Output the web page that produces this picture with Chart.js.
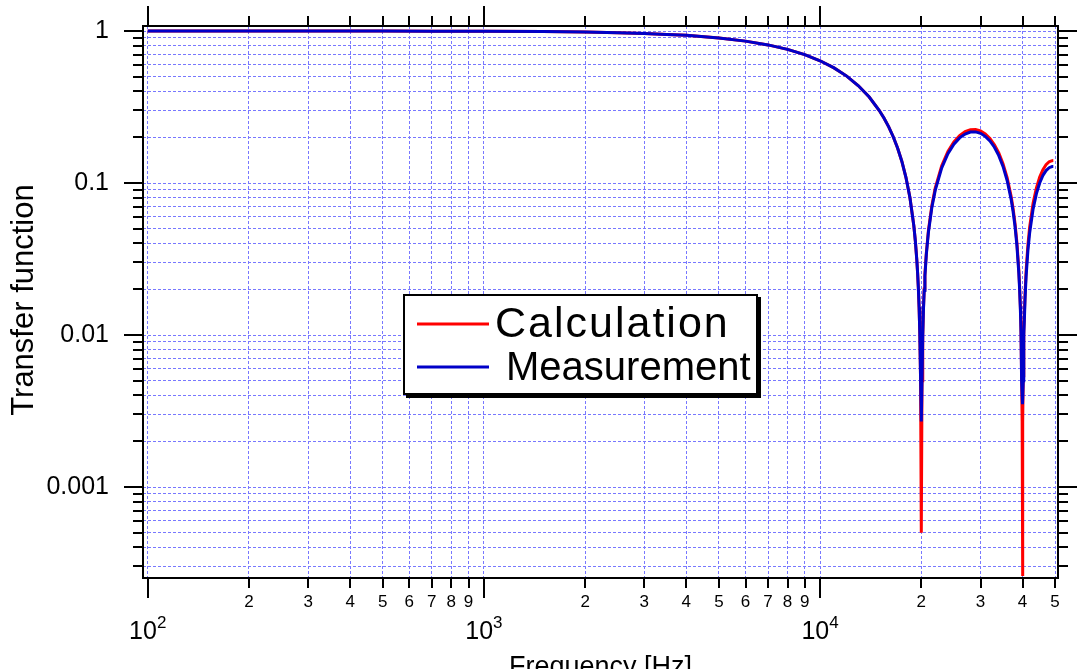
<!DOCTYPE html>
<html>
<head>
<meta charset="utf-8">
<script src="https://cdn.jsdelivr.net/npm/chart.js@4/dist/chart.umd.min.js"></script>
<style>
  html, body { margin: 0; padding: 0; background: #fff; }
</style>
</head>
<body>
<canvas id="tf" width="1077" height="669"></canvas>
<script>
// frequency [Hz] of every sample
const freq = [100, 200, 300, 500, 700, 1000, 1500, 2000, 2500, 3000, 3500, 4000, 5000, 6000, 7000, 8000, 9000,
  10000, 11000, 12000, 13000, 14000, 15000, 15500, 16000, 16500, 17000, 17500, 18000, 18500, 19000, 19200, 19400,
  19500, 19600, 19700, 19800, 19900, 20000, 20100, 20200, 20300, 20400, 20500, 20700, 21000, 21500, 22000, 23000,
  24000, 25000, 26000, 27000, 28000, 29000, 30000, 31000, 32000, 33000, 34000, 35000, 36000, 37000, 37500, 38000,
  38500, 39000, 39200, 39400, 39500, 39600, 39700, 39800, 39900, 40000, 40100, 40200, 40300, 40400, 40500, 40700,
  41000, 41500, 42000, 43000, 44000, 45000, 46000, 47000, 48000, 49000, 49400];

// Calculation (red)
const calc = [1.000, 0.9999, 0.9996, 0.999, 0.998, 0.996, 0.991, 0.984, 0.974, 0.963, 0.950, 0.936, 0.900, 0.858, 0.810, 0.757, 0.699,
  0.637, 0.572, 0.505, 0.436, 0.368, 0.300, 0.2667, 0.234, 0.2016, 0.170, 0.1392, 0.109, 0.0803, 0.0524, 0.04155, 0.03088,
  0.0256, 0.0204, 0.01522, 0.0101, 0.0050, 0.0005, 0.0050, 0.0100, 0.0151, 0.0201, 0.0250, 0.0346, 0.0487, 0.0712, 0.0925, 0.130,
  0.1615, 0.1865, 0.2050, 0.2175, 0.2240, 0.2250, 0.2200, 0.2105, 0.1965, 0.1787, 0.1577, 0.1340, 0.1085, 0.0817, 0.0679, 0.0543,
  0.0404, 0.0268, 0.0213, 0.0159, 0.0134, 0.01055, 0.0079, 0.0053, 0.0027, 0.00026, 0.0027, 0.0054, 0.0080, 0.0107, 0.0135, 0.0186,
  0.0265, 0.0389, 0.0512, 0.0735, 0.0930, 0.1094, 0.1225, 0.1320, 0.1380, 0.1403, 0.1404];

// Measurement (blue), null = not sampled
const meas = [1.000, 0.9999, 0.9996, 0.999, 0.998, 0.996, 0.991, 0.984, 0.974, 0.963, 0.950, 0.936, 0.900, 0.858, 0.810, 0.757, 0.699,
  0.637, 0.572, 0.505, 0.436, 0.368, 0.300, 0.2667, 0.234, 0.2016, 0.170, 0.1392, 0.109, 0.0803, 0.0524, 0.04155, 0.03088,
  0.0256, 0.0204, 0.01522, 0.0101, null, 0.0027, null, 0.0099, 0.01477, 0.0196, 0.0244, 0.03375, 0.0474, 0.0691, 0.0894, 0.1257,
  0.1559, 0.1801, 0.1981, 0.2101, 0.2162, 0.2168, 0.2122, 0.2028, 0.1892, 0.1719, 0.1515, 0.1286, 0.1039, 0.0781, 0.06497, 0.0518,
  0.0386, 0.0255, 0.02035, 0.0152, 0.01265, 0.0101, 0.00755, 0.0050, null, 0.0035, null, 0.0050, 0.00744, 0.0099, 0.01233, 0.01717,
  0.0243, 0.0358, 0.0468, 0.0672, 0.0851, 0.1000, 0.1120, 0.1207, 0.1261, 0.1283, 0.1283];

const xTickVals = [100, 200, 300, 400, 500, 600, 700, 800, 900,
  1000, 2000, 3000, 4000, 5000, 6000, 7000, 8000, 9000,
  10000, 20000, 30000, 40000, 50000];
const xTickLabels = ['', '2', '3', '4', '5', '6', '7', '8', '9',
  '', '2', '3', '4', '5', '6', '7', '8', '9',
  '', '2', '3', '4', '5'];
const xMajorVals = [100, 1000, 10000];
const xMajorExp = ['2', '3', '4'];

const yTickVals = [0.0003, 0.0004, 0.0005, 0.0006, 0.0007, 0.0008, 0.0009,
  0.001, 0.002, 0.003, 0.004, 0.005, 0.006, 0.007, 0.008, 0.009,
  0.01, 0.02, 0.03, 0.04, 0.05, 0.06, 0.07, 0.08, 0.09,
  0.1, 0.2, 0.3, 0.4, 0.5, 0.6, 0.7, 0.8, 0.9, 1];
const yMajorVals = [0.001, 0.01, 0.1, 1];
const yMajorLabels = ['0.001', '0.01', '0.1', '1'];

const FONT = 'Liberation Sans, Arial, sans-serif';
const GRID = 'rgb(120, 120, 255)';

function isMajor(v) {
  let l = Math.log10(v);
  return Math.abs(l - Math.round(l)) < 1e-9;
}

function pts(vals) {
  return freq.map((f, i) => ({ x: f, y: vals[i] }));
}

// axis frame, outside ticks, 10^n labels, titles and legend box
const frame = {
  id: 'frame',
  afterDraw(chart) {
    const { ctx, chartArea: a, scales: { x, y } } = chart;
    ctx.save();
    ctx.strokeStyle = '#000';
    ctx.lineWidth = 2;
    ctx.lineCap = 'butt';
    function seg(x1, y1, x2, y2) {
      ctx.beginPath();
      ctx.moveTo(x1, y1);
      ctx.lineTo(x2, y2);
      ctx.stroke();
    }
    ctx.strokeRect(a.left, a.top, a.right - a.left, a.bottom - a.top);

    xTickVals.forEach(v => {
      let px = Math.round(x.getPixelForValue(v));
      let len = isMajor(v) ? 20 : 10;
      seg(px, a.bottom, px, a.bottom + len);
      seg(px, a.top, px, a.top - len);
    });
    yTickVals.forEach(v => {
      let py = Math.round(y.getPixelForValue(v));
      let len = isMajor(v) ? 19 : 10;
      seg(a.left - len, py, a.left, py);
      seg(a.right, py, a.right + len, py);
    });

    // 10^n labels
    ctx.fillStyle = '#000';
    ctx.textBaseline = 'alphabetic';
    ctx.textAlign = 'left';
    xMajorVals.forEach((v, i) => {
      let px = x.getPixelForValue(v);
      ctx.font = '25px ' + FONT;
      let w10 = ctx.measureText('10').width;
      ctx.font = '17px ' + FONT;
      let wExp = ctx.measureText(xMajorExp[i]).width;
      let start = px - (w10 + wExp) / 2;
      ctx.font = '25px ' + FONT;
      ctx.fillText('10', start, 639);
      ctx.font = '17px ' + FONT;
      ctx.fillText(xMajorExp[i], start + w10, 628);
    });

    // axis titles
    ctx.font = '27px ' + FONT;
    ctx.textAlign = 'center';
    ctx.fillText('Frequency [Hz]', (a.left + a.right) / 2, 675);
    ctx.save();
    ctx.translate(33, 300);
    ctx.rotate(-Math.PI / 2);
    ctx.font = '31px ' + FONT;
    ctx.fillText('Transfer function', 0, 0);
    ctx.restore();

    // legend
    ctx.fillStyle = '#000';
    ctx.fillRect(406, 297, 355, 101);
    ctx.fillStyle = '#fff';
    ctx.fillRect(403, 294, 355, 101);
    ctx.strokeRect(404, 295, 353, 99);
    ctx.lineWidth = 3;
    ctx.strokeStyle = '#ff0000';
    seg(417, 324, 489, 324);
    ctx.strokeStyle = '#0000c8';
    seg(417, 367, 489, 367);
    ctx.fillStyle = '#000';
    ctx.textAlign = 'left';
    ctx.font = '43px ' + FONT;
    ctx.letterSpacing = '2px';
    ctx.fillText('Calculation', 495, 337);
    ctx.letterSpacing = '0px';
    ctx.font = '40px ' + FONT;
    ctx.fillText('Measurement', 506, 380);
    ctx.restore();
  }
};

new Chart(document.getElementById('tf'), {
  type: 'line',
  data: {
    datasets: [
      {
        label: 'Calculation',
        data: pts(calc),
        borderColor: '#ff0000',
        borderWidth: 3,
        pointRadius: 0,
        spanGaps: true,
        order: 2
      },
      {
        label: 'Measurement',
        data: pts(meas),
        borderColor: '#0000c8',
        borderWidth: 3,
        pointRadius: 0,
        spanGaps: true,
        order: 1
      }
    ]
  },
  options: {
    responsive: false,
    animation: false,
    layout: { padding: { top: 26, right: 19, left: 0, bottom: 0 } },
    plugins: {
      legend: { display: false },
      tooltip: { enabled: false }
    },
    scales: {
      x: {
        type: 'logarithmic',
        min: 96.83,
        max: 51007,
        afterBuildTicks: s => { s.ticks = xTickVals.map(v => ({ value: v })); },
        afterFit: s => { s.height = 91; s.paddingLeft = 0; s.paddingRight = 0; },
        grid: { color: GRID, lineWidth: 1, drawTicks: false },
        border: { display: false, dash: [3, 2] },
        ticks: {
          autoSkip: false,
          maxRotation: 0,
          padding: 14,
          color: '#000',
          font: { family: FONT, size: 17 },
          callback: (v, i) => xTickLabels[i]
        }
      },
      y: {
        type: 'logarithmic',
        min: 0.000252,
        max: 1.0787,
        afterBuildTicks: s => { s.ticks = yTickVals.map(v => ({ value: v })); },
        afterFit: s => { s.width = 143; s.paddingTop = 0; s.paddingBottom = 0; },
        grid: { color: GRID, lineWidth: 1, drawTicks: false },
        border: { display: false, dash: [3, 2] },
        ticks: {
          autoSkip: false,
          padding: 34,
          color: '#000',
          font: { family: FONT, size: 25 },
          callback: (v, i) => {
            let k = yMajorVals.indexOf(yTickVals[i]);
            return k >= 0 ? yMajorLabels[k] : '';
          }
        }
      }
    }
  },
  plugins: [frame]
});
</script>
</body>
</html>
